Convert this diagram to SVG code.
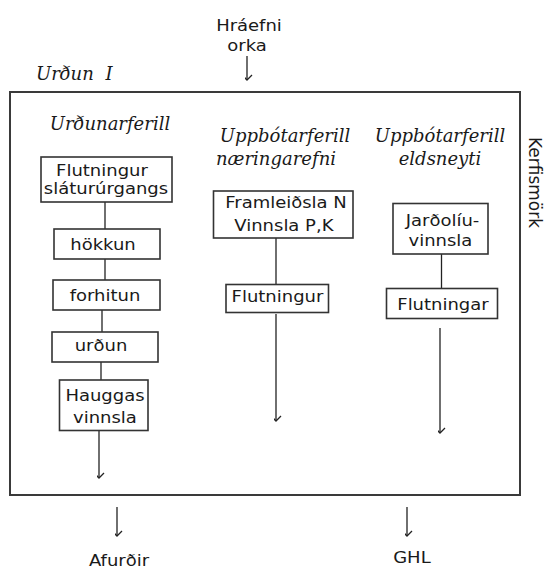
<svg xmlns="http://www.w3.org/2000/svg" width="544" height="569" viewBox="0 0 544 569">
  <style>
    .bg { fill: #ffffff; }
    .frame { fill: none; stroke: #3a3a3a; stroke-width: 2; }
    .box { fill: #ffffff; stroke: #333333; stroke-width: 1.6; }
    .link { fill: none; stroke: #222222; stroke-width: 1.3; }
    .flow { fill: none; stroke: #222222; stroke-width: 1.3; marker-end: url(#chev); }
    .t { font-family: "DejaVu Sans", Verdana, sans-serif; font-size: 15px; fill: #1a1a1a; text-anchor: middle;
         transform-box: fill-box; transform-origin: center; transform: scaleX(1.2); }
    .h { font-family: "DejaVu Serif", "Liberation Serif", serif; font-style: italic; font-size: 18px; fill: #1a1a1a; text-anchor: middle; }
    .side { font-family: "DejaVu Sans", Verdana, sans-serif; font-size: 17px; fill: #1a1a1a; }
  </style>
  <defs>
    <marker id="chev" markerUnits="userSpaceOnUse" markerWidth="14" markerHeight="10" viewBox="-7 -8 14 10" refX="0" refY="0" orient="auto-start-reverse">
      <path d="M-5,-5 L0,0 L5,-5" transform="rotate(-90)" fill="none" stroke="#222222" stroke-width="1.3"/>
    </marker>
  </defs>

  <rect class="bg" x="0" y="0" width="544" height="569"/>

  <!-- system boundary -->
  <g id="system">
    <rect class="frame" x="10" y="92" width="510" height="403"/>
    <text class="h" x="36" y="80" style="text-anchor:start" word-spacing="6">Urðun I</text>
    <text class="side" transform="translate(529,137) rotate(90)">Kerfismörk</text>
  </g>

  <!-- inputs and outputs -->
  <g id="input">
    <text class="t" x="249" y="31">Hráefni</text>
    <text class="t" x="247" y="51">orka</text>
  </g>
  <g id="out-afurdir">
    <text class="t" x="119" y="566">Afurðir</text>
  </g>
  <g id="out-ghl">
    <text class="t" x="412" y="563">GHL</text>
  </g>

  <!-- column headings -->
  <g id="head-urdun">
    <text class="h" x="110" y="130">Urðunarferill</text>
  </g>
  <g id="head-naering">
    <text class="h" x="285" y="142">Uppbótarferill</text>
    <text class="h" x="276" y="165">næringarefni</text>
  </g>
  <g id="head-eldsneyti">
    <text class="h" x="440" y="142">Uppbótarferill</text>
    <text class="h" x="440" y="165">eldsneyti</text>
  </g>

  <!-- connectors -->
  <g id="connectors">
    <path class="flow" d="M247,56 V80"/>
    <path class="link" d="M105,202 V229"/>
    <path class="link" d="M105,259 V280"/>
    <path class="link" d="M102,310 V332"/>
    <path class="link" d="M101,362 V380"/>
    <path class="flow" d="M99,431 V478"/>
    <path class="link" d="M276,238 V284"/>
    <path class="flow" d="M276,314 V421"/>
    <path class="link" d="M441.5,254 V288"/>
    <path class="flow" d="M440,328 V433"/>
    <path class="flow" d="M117,507 V536"/>
    <path class="flow" d="M407,507 V536"/>
  </g>

  <!-- landfill process -->
  <g id="flutningur-slaturur">
    <rect class="box" x="41" y="157" width="131" height="45"/>
    <text class="t" x="102" y="176">Flutningur</text>
    <text class="t" x="106" y="194">sláturúrgangs</text>
  </g>
  <g id="hokkun">
    <rect class="box" x="54" y="229" width="106" height="30"/>
    <text class="t" x="103" y="250.5">hökkun</text>
  </g>
  <g id="forhitun">
    <rect class="box" x="53" y="280" width="107" height="30"/>
    <text class="t" x="105" y="301.5">forhitun</text>
  </g>
  <g id="urdun">
    <rect class="box" x="52" y="332" width="106" height="30"/>
    <text class="t" x="101" y="351.5">urðun</text>
  </g>
  <g id="hauggas">
    <rect class="box" x="59.5" y="380" width="88.5" height="50.5"/>
    <text class="t" x="105" y="401.5">Hauggas</text>
    <text class="t" x="105" y="423">vinnsla</text>
  </g>

  <!-- nutrient compensation -->
  <g id="framleidsla">
    <rect class="box" x="213.5" y="191" width="139.5" height="47"/>
    <text class="t" x="286" y="208.5">Framleiðsla N</text>
    <text class="t" x="284" y="231.5">Vinnsla P,K</text>
  </g>
  <g id="flutningur-n">
    <rect class="box" x="226" y="284.5" width="102.5" height="28"/>
    <text class="t" x="277.5" y="302">Flutningur</text>
  </g>

  <!-- fuel compensation -->
  <g id="jardoliu">
    <rect class="box" x="393" y="203.5" width="95" height="50.5"/>
    <text class="t" x="442.5" y="226">Jarðolíu-</text>
    <text class="t" x="440.5" y="246.5">vinnsla</text>
  </g>
  <g id="flutningar">
    <rect class="box" x="386.5" y="288.5" width="111" height="30"/>
    <text class="t" x="443" y="310">Flutningar</text>
  </g>
</svg>
